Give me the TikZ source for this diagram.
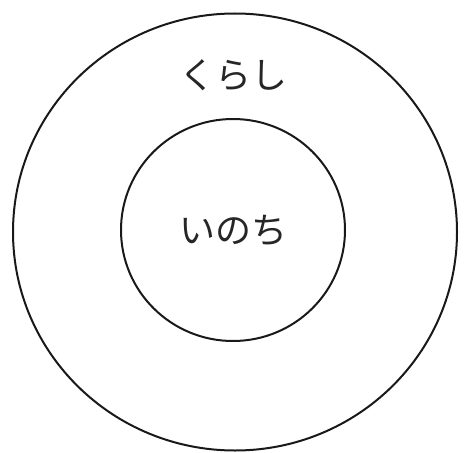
\documentclass[tikz,border=0pt]{standalone}
\usepackage{fontspec}
\newfontfamily\jpfont{Noto Sans CJK JP}
\usetikzlibrary{positioning,shapes.geometric}

\begin{document}
\begin{tikzpicture}[
  x=1pt, y=-1pt,
  %% Ring styles
  ring/.style={
    ellipse, draw=black!90, line width=2pt,
    inner sep=0pt
  },
  label/.style={
    font=\jpfont\fontsize{36}{36}\selectfont,
    text=black!85
  },
]
\useasboundingbox (0,0) rectangle (465,452);

%% ── Rings ──────────────────────────────────────────────────────────────────
\node[ring, minimum width=444pt, minimum height=437pt] (outer) at (235,232) {};
\node[ring, minimum width=224pt, minimum height=222pt] (inner) at (233,230) {};

%% ── Labels ─────────────────────────────────────────────────────────────────
\node[label] (kurashi) at (233,75) {くらし};
\node[label] (inochi)  at (inner.center) {いのち};

\end{tikzpicture}
\end{document}
